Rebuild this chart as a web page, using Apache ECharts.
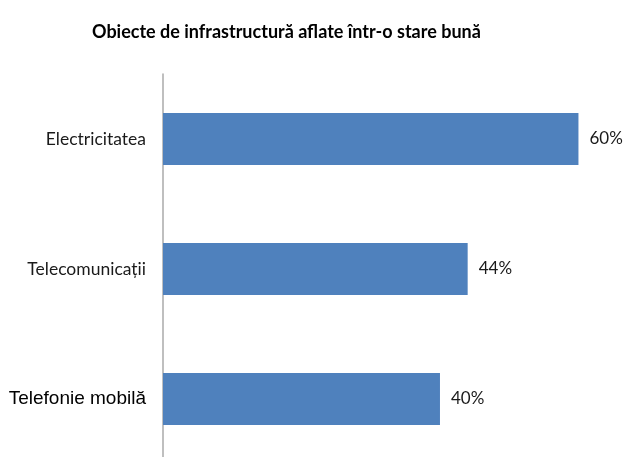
<!DOCTYPE html>
<html>
<head>
    <meta charset="utf-8">
    <title>Obiecte de infrastructură</title>
    <script src="https://cdn.jsdelivr.net/npm/echarts@6/dist/echarts.min.js"></script>
    <style>
        html, body { margin: 0; padding: 0; background: #fff; }
        #main { width: 624px; height: 457px; }
    </style>
</head>
<body>
<div id="main"></div>
<script type="text/javascript">
    var categories = ['Electricitatea', 'Telecomunicații', 'Telefonie mobilă'];
    var values = [60, 44, 40];

    var calibriLike = "Lato, 'DejaVu Sans Condensed', sans-serif";

    var chart = echarts.init(document.getElementById('main'));
    chart.setOption({
        backgroundColor: '#fff',
        animation: false,
        title: {
            text: 'Obiecte de infrastructură aflate într-o stare bună',
            left: 87,
            top: 18,
            textStyle: {
                color: '#000',
                fontFamily: calibriLike,
                fontWeight: 'bold',
                fontSize: 18
            }
        },
        grid: {
            left: 163,
            top: 74,
            width: 457,
            height: 390,
            outerBoundsMode: 'none'
        },
        xAxis: {
            type: 'value',
            min: 0,
            max: 66,
            show: false
        },
        yAxis: {
            type: 'category',
            inverse: true,
            data: categories,
            axisLine: { lineStyle: { color: '#aaa', width: 1.5 } },
            axisTick: { show: false },
            axisLabel: {
                margin: 17,
                color: '#1a1a1a',
                fontFamily: calibriLike,
                fontSize: 17.5,
                formatter: function (v, i) {
                    return i === 2 ? '{arial|' + v + '}' : v;
                },
                rich: {
                    arial: {
                        fontFamily: "'Liberation Sans', Arial, sans-serif",
                        fontSize: 19,
                        color: '#000'
                    }
                }
            }
        },
        series: [{
            type: 'bar',
            data: values,
            barCategoryGap: '60%',
            itemStyle: { color: '#4f81bd' },
            label: {
                show: true,
                position: 'right',
                distance: 11,
                color: '#1a1a1a',
                fontFamily: calibriLike,
                fontSize: 17,
                formatter: '{c}%'
            }
        }]
    });
</script>
</body>
</html>
